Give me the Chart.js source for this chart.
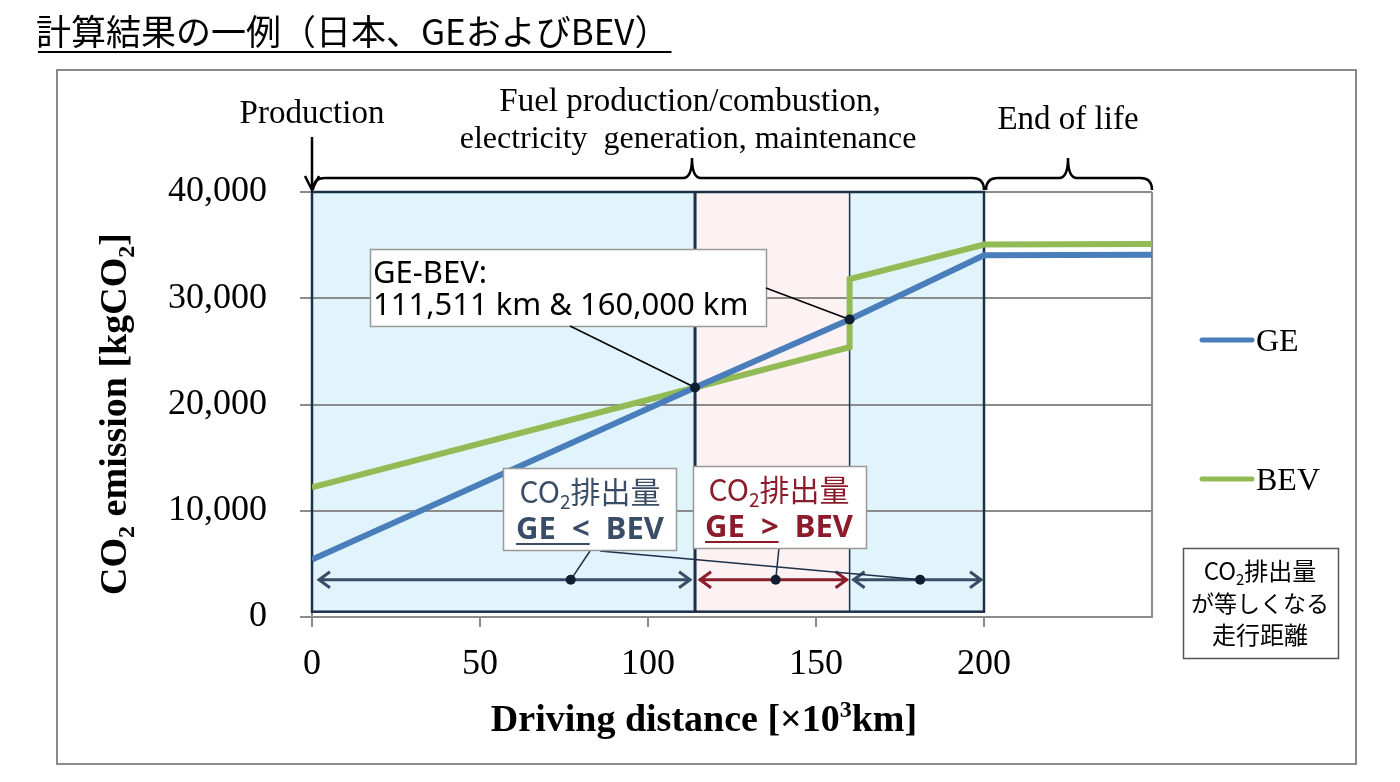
<!DOCTYPE html>
<html>
<head>
<meta charset="utf-8">
<script src="https://cdn.jsdelivr.net/npm/chart.js@4.4.1/dist/chart.umd.min.js"></script>
<style>
  html, body { margin: 0; padding: 0; background: #fff; }
  canvas { display: block; }
</style>
</head>
<body>
<canvas id="grafico" width="1400" height="782"></canvas>
<script>
// dados (x em 10^3 km, y em kgCO2)
const distGE = [0, 114, 160, 200, 250];
const emisGE = [5400, 21600, 28000, 34050, 34100];
const distBEV = [0, 114, 160, 160, 200, 250];
const emisBEV = [12200, 21600, 25400, 31800, 35050, 35100];
const xTicks = [0, 50, 100, 150, 200];
const xMax = 250;
const yMax = 40000;
const yStep = 10000;

// distancias onde as emissoes se igualam
const cruzDist = [114, 160];
const cruzEmis = [21600, 28000];
// faixas sombreadas: inicio, fim, tipo
const faixas = [[0, 114, 'azul'], [114, 160, 'rosa'], [160, 200, 'azul']];
const fimDeVida = [200, 250];
const alturaSetas = 3500;
const marcasSetas = [77, 138, 181];

const serif = '"Liberation Serif", "Times New Roman", serif';
const sans = '"Noto Sans", "Noto Sans CJK JP", sans-serif';
const jp = '"Noto Sans CJK JP", "Noto Sans", sans-serif';

const corAzul = '#4a7ebb';
const corVerde = '#93bb55';
const corMarinho = '#1c3049';
const corArdosia = '#3a4d66';
const corVinho = '#8b1c2c';
const corGrade = '#8c8c8c';

function px(chart, v) { return chart.scales.x.getPixelForValue(v); }
function py(chart, v) { return chart.scales.y.getPixelForValue(v); }

function textoRico(c, partes, x, y, tam, fonte, peso, cor, alinhar) {
  const pequeno = Math.round(tam * 0.62);
  let total = 0;
  const larg = partes.map(p => {
    c.font = peso + ' ' + ((p.sub || p.sup) ? pequeno : tam) + 'px ' + fonte;
    const w = c.measureText(p.t).width;
    total += w;
    return w;
  });
  let cx = alinhar === 'left' ? x : x - total / 2;
  c.fillStyle = cor;
  c.strokeStyle = cor;
  c.textAlign = 'left';
  c.textBaseline = 'alphabetic';
  partes.forEach((p, i) => {
    c.font = peso + ' ' + ((p.sub || p.sup) ? pequeno : tam) + 'px ' + fonte;
    const dy = p.sub ? tam * 0.2 : (p.sup ? -tam * 0.36 : 0);
    c.fillText(p.t, cx, y + dy);
    if (p.u) {
      c.lineWidth = 2;
      c.beginPath();
      c.moveTo(cx, y + 5);
      c.lineTo(cx + larg[i], y + 5);
      c.stroke();
    }
    cx += larg[i];
  });
}

function caixa(c, x, y, w, h, borda) {
  c.fillStyle = '#fff';
  c.fillRect(x, y, w, h);
  c.strokeStyle = borda;
  c.lineWidth = 1.5;
  c.strokeRect(x + 0.5, y + 0.5, w, h);
}

function chave(c, x1, x2, xm, yBase, yLinha, yPonta) {
  c.beginPath();
  c.moveTo(x1, yBase);
  c.quadraticCurveTo(x1, yLinha, x1 + 12, yLinha);
  c.lineTo(xm - 9, yLinha);
  c.quadraticCurveTo(xm, yLinha, xm, yPonta);
  c.quadraticCurveTo(xm, yLinha, xm + 9, yLinha);
  c.lineTo(x2 - 12, yLinha);
  c.quadraticCurveTo(x2, yLinha, x2, yBase);
  c.stroke();
}

function seta(c, x1, x2, y, cor) {
  c.strokeStyle = cor;
  c.lineWidth = 3;
  c.beginPath();
  c.moveTo(x1, y); c.lineTo(x2, y);
  c.moveTo(x1 + 12, y - 8); c.lineTo(x1 + 1, y); c.lineTo(x1 + 12, y + 8);
  c.moveTo(x2 - 12, y - 8); c.lineTo(x2 - 1, y); c.lineTo(x2 - 12, y + 8);
  c.stroke();
}

function ponto(c, x, y) {
  c.fillStyle = '#0f1e30';
  c.beginPath();
  c.arc(x, y, 5, 0, Math.PI * 2);
  c.fill();
}

function linha(c, x1, y1, x2, y2, cor, w) {
  c.strokeStyle = cor;
  c.lineWidth = w;
  c.beginPath();
  c.moveTo(x1, y1); c.lineTo(x2, y2);
  c.stroke();
}

const pluginAnotacoes = {
  id: 'anotacoes',
  beforeDraw(chart) {
    const c = chart.ctx;
    c.save();
    c.fillStyle = '#fff';
    c.fillRect(0, 0, chart.width, chart.height);
    const topo = py(chart, yMax), base = py(chart, 500);
    faixas.forEach(f => {
      c.fillStyle = f[2] === 'rosa' ? '#fcf2f3' : '#e1f4fb';
      c.fillRect(px(chart, f[0]), topo, px(chart, f[1]) - px(chart, f[0]), base - topo);
    });
    c.restore();
  },
  beforeDatasetsDraw(chart) {
    const c = chart.ctx;
    c.save();
    const topo = py(chart, yMax), base = py(chart, 500);
    const x0 = px(chart, 0), x2 = px(chart, 200);
    c.strokeStyle = corMarinho;
    c.lineWidth = 2.5;
    c.strokeRect(x0, topo, x2 - x0, base - topo);
    linha(c, px(chart, cruzDist[0]), topo, px(chart, cruzDist[0]), base, corMarinho, 3);
    linha(c, px(chart, cruzDist[1]), topo, px(chart, cruzDist[1]), base, corMarinho, 1.5);
    c.restore();
  },
  afterDraw(chart) {
    const c = chart.ctx;
    const a = chart.chartArea;
    c.save();

    // moldura externa e titulo
    c.strokeStyle = '#8a8a8a';
    c.lineWidth = 2;
    c.strokeRect(57, 70, 1299, 694);
    c.font = '400 35px ' + jp;
    c.fillStyle = '#000';
    c.textAlign = 'left';
    c.textBaseline = 'alphabetic';
    c.fillText('計算結果の一例（日本、GEおよびBEV）', 36, 45);
    const wt = c.measureText('計算結果の一例（日本、GEおよびBEV）').width;
    linha(c, 38, 52, 38 + wt, 52, '#000', 2);

    // fases do ciclo de vida
    c.font = '33px ' + serif;
    c.textAlign = 'center';
    c.fillStyle = '#000';
    c.fillText('Production', px(chart, 0), 123);
    c.fillText('Fuel production/combustion,', 690, 111);
    c.fillText('End of life', 1068, 129);
    c.font = '32px ' + serif;
    c.fillText('electricity  generation, maintenance', 688, 148);

    c.strokeStyle = '#000';
    c.lineWidth = 2.5;
    const x0 = px(chart, 0);
    c.beginPath();
    c.moveTo(x0, 137); c.lineTo(x0, a.top - 2);
    c.moveTo(x0 - 7, a.top - 16); c.lineTo(x0, a.top - 2); c.lineTo(x0 + 7, a.top - 16);
    c.stroke();
    chave(c, x0 + 1, px(chart, 200), 692, a.top - 2, a.top - 14, a.top - 34);
    chave(c, px(chart, fimDeVida[0]) + 2, px(chart, fimDeVida[1]), px(chart, 225), a.top - 2, a.top - 14, a.top - 34);

    // titulos dos eixos
    c.save();
    c.translate(113, 414);
    c.rotate(-Math.PI / 2);
    textoRico(c, [{t: 'CO'}, {t: '2', sub: true}, {t: ' emission [kgCO'}, {t: '2', sub: true}, {t: ']'}],
      0, 13, 38, serif, 'bold', '#000');
    c.restore();
    textoRico(c, [{t: 'Driving distance [×10'}, {t: '3', sup: true}, {t: 'km]'}],
      704, 731, 38, serif, 'bold', '#000');

    // legenda
    chart.data.datasets.forEach((ds, i) => {
      const y = i === 0 ? 340 : 479;
      c.strokeStyle = ds.borderColor;
      c.lineWidth = 5;
      c.lineCap = 'round';
      c.beginPath(); c.moveTo(1202, y); c.lineTo(1252, y); c.stroke();
      c.lineCap = 'butt';
      c.font = '32px ' + serif;
      c.fillStyle = '#000';
      c.textAlign = 'left';
      c.fillText(ds.label, 1256, y + 11);
    });

    // caixa de explicacao
    caixa(c, 1183, 548, 155, 110, '#555');
    textoRico(c, [{t: 'CO'}, {t: '2', sub: true}, {t: '排出量'}], 1260, 580, 24, jp, '400', '#000');
    textoRico(c, [{t: 'が等しくなる'}], 1260, 612, 23, jp, '400', '#000');
    textoRico(c, [{t: '走行距離'}], 1260, 644, 24, jp, '400', '#000');

    // setas de faixas
    const ys = py(chart, alturaSetas);
    seta(c, px(chart, 0) + 6, px(chart, cruzDist[0]) - 4, ys, corArdosia);
    seta(c, px(chart, cruzDist[0]) + 4, px(chart, cruzDist[1]) - 2, ys, corVinho);
    seta(c, px(chart, cruzDist[1]) + 3, px(chart, 200) - 2, ys, corArdosia);

    // chamada dos pontos de igualdade
    caixa(c, 370, 249, 396, 77, '#999');
    c.font = '31px ' + sans;
    c.fillStyle = '#000';
    c.textAlign = 'left';
    c.fillText('GE-BEV:', 373, 283);
    c.fillText('111,511 km & 160,000 km', 373, 315);
    const p1x = px(chart, cruzDist[0]), p1y = py(chart, cruzEmis[0]);
    const p2x = px(chart, cruzDist[1]), p2y = py(chart, cruzEmis[1]);
    linha(c, 570, 326, p1x, p1y, '#000', 1.5);
    linha(c, 766, 288, p2x, p2y, '#000', 1.5);
    ponto(c, p1x, p1y);
    ponto(c, p2x, p2y);

    // caixas GE < BEV e GE > BEV
    const m0 = px(chart, marcasSetas[0]), m1 = px(chart, marcasSetas[1]), m2 = px(chart, marcasSetas[2]);
    linha(c, 590, 551, m0, ys, corMarinho, 1.5);
    linha(c, 600, 551, m2, ys, corMarinho, 1.5);
    linha(c, 779, 548, m1, ys, corMarinho, 1.5);
    caixa(c, 503, 468, 173, 82, '#999');
    textoRico(c, [{t: 'CO'}, {t: '2', sub: true}, {t: '排出量'}], 590, 503, 30, jp, '400', corArdosia);
    textoRico(c, [{t: 'GE  <', u: true}, {t: '  BEV'}], 590, 539, 31, sans, 'bold', corArdosia);
    caixa(c, 693, 466, 173, 82, '#999');
    textoRico(c, [{t: 'CO'}, {t: '2', sub: true}, {t: '排出量'}], 779, 501, 30, jp, '400', corVinho);
    textoRico(c, [{t: 'GE  >', u: true}, {t: '  BEV'}], 779, 537, 31, sans, 'bold', corVinho);
    ponto(c, m0, ys);
    ponto(c, m1, ys);
    ponto(c, m2, ys);

    c.restore();
  }
};

const config = {
  type: 'line',
  data: {
    datasets: [
      {
        label: 'GE',
        data: distGE.map((d, i) => ({x: d, y: emisGE[i]})),
        borderColor: corAzul,
        borderWidth: 6,
        pointRadius: 0,
        tension: 0
      },
      {
        label: 'BEV',
        data: distBEV.map((d, i) => ({x: d, y: emisBEV[i]})),
        borderColor: corVerde,
        borderWidth: 6,
        pointRadius: 0,
        tension: 0
      }
    ]
  },
  options: {
    responsive: false,
    animation: false,
    layout: { padding: { left: 0, top: 192, right: 248, bottom: 0 } },
    plugins: { legend: { display: false }, tooltip: { enabled: false } },
    scales: {
      x: {
        type: 'linear',
        min: 0,
        max: xMax,
        afterFit(scale) { scale.height = 165; },
        afterBuildTicks(scale) {
          scale.ticks = xTicks.concat([xMax]).map(v => ({value: v}));
        },
        ticks: {
          font: { family: serif, size: 36 },
          color: '#000',
          padding: 16,
          maxRotation: 0,
          autoSkip: false,
          callback: v => xTicks.includes(v) ? String(v) : ''
        },
        grid: {
          drawOnChartArea: true,
          tickLength: 10,
          lineWidth: 2,
          color: ctx => (ctx.tick && ctx.tick.value === xMax) ? corGrade : 'rgba(0,0,0,0)',
          tickColor: ctx => (ctx.tick && ctx.tick.value === xMax) ? 'rgba(0,0,0,0)' : corGrade
        },
        border: { display: true, color: corGrade, width: 2 }
      },
      y: {
        min: 0,
        max: yMax,
        afterFit(scale) { scale.width = 312; },
        ticks: {
          stepSize: yStep,
          font: { family: serif, size: 36 },
          color: '#000',
          padding: 33,
          callback: v => v.toLocaleString('en-US')
        },
        grid: { color: corGrade, lineWidth: 2, tickLength: 12 },
        border: { display: true, color: corGrade, width: 2 }
      }
    }
  },
  plugins: [pluginAnotacoes]
};

const myChart = new Chart(document.getElementById('grafico'), config);
</script>
</body>
</html>
